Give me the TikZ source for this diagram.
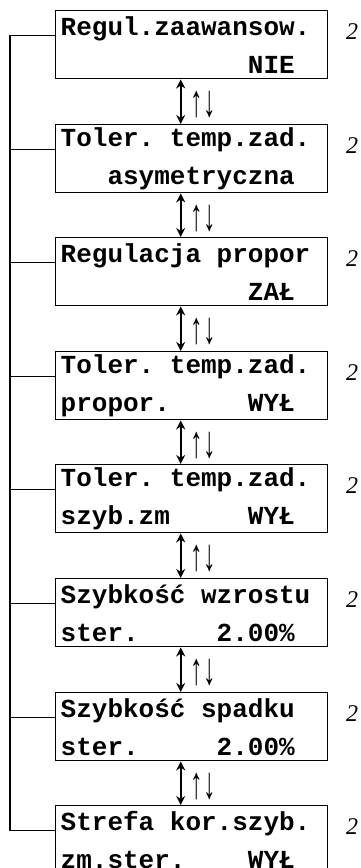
\documentclass[tikz,border=0pt]{standalone}
\usepackage{fontspec}
\setmonofont{Liberation Mono}
\newfontfamily\numfont{Liberation Serif}
\usetikzlibrary{arrows.meta}

% n blank LCD cells
\newcommand\cells[1]{\hspace*{#1\fontcharwd\font`M}}

\tikzset{
  lcd/.style={draw, line width=1.4pt, anchor=north west, minimum width=272pt, minimum height=68pt,
    inner xsep=5pt, inner ysep=0pt, text width=262pt, align=left,
    font=\ttfamily\bfseries\fontsize{26}{38}\selectfont},
  updown/.style={{Stealth[length=9pt,width=9pt]}-{Stealth[length=9pt,width=9pt]}, line width=2.2pt},
  keys/.style={font=\numfont\fontsize{25}{25}\selectfont, inner sep=0pt},
  pagenum/.style={font=\numfont\itshape\fontsize{24}{24}\selectfont, inner sep=0pt}
}

\begin{document}
\begin{tikzpicture}[x=1pt, y=-1pt]
\useasboundingbox (0,0) rectangle (361,868);

\node[lcd] (b1) at (55,10) {Regul.zaawansow.\\\cells{12}NIE};
\node[lcd] (b2) at (55,124) {Toler.\cells{1}temp.zad.\\\cells{3}asymetryczna};
\node[lcd] (b3) at (55,237) {Regulacja\cells{1}propor\\\cells{12}ZAŁ};
\node[lcd] (b4) at (55,351) {Toler.\cells{1}temp.zad.\\propor.\cells{5}WYŁ};
\node[lcd] (b5) at (55,464) {Toler.\cells{1}temp.zad.\\szyb.zm\cells{5}WYŁ};
\node[lcd] (b6) at (55,578) {Szybkość\cells{1}wzrostu\\ster.\cells{5}2.00\%};
\node[lcd] (b7) at (55,692) {Szybkość\cells{1}spadku\\ster.\cells{5}2.00\%};
\node[lcd] (b8) at (55,805) {Strefa\cells{1}kor.szyb.\\zm.ster.\cells{4}WYŁ};

% up/down keys between the screens
\draw[updown] ([xshift=-11pt]b1.south) -- ([xshift=-11pt]b2.north);
\draw[updown] ([xshift=-11pt]b2.south) -- ([xshift=-11pt]b3.north);
\draw[updown] ([xshift=-11pt]b3.south) -- ([xshift=-11pt]b4.north);
\draw[updown] ([xshift=-11pt]b4.south) -- ([xshift=-11pt]b5.north);
\draw[updown] ([xshift=-11pt]b5.south) -- ([xshift=-11pt]b6.north);
\draw[updown] ([xshift=-11pt]b6.south) -- ([xshift=-11pt]b7.north);
\draw[updown] ([xshift=-11pt]b7.south) -- ([xshift=-11pt]b8.north);

\node[keys] (k1) at (203,105) {\scalebox{1}[1.8]{↑↓}};
\node[keys] (k2) at (203,219) {\scalebox{1}[1.8]{↑↓}};
\node[keys] (k3) at (203,332) {\scalebox{1}[1.8]{↑↓}};
\node[keys] (k4) at (203,446) {\scalebox{1}[1.8]{↑↓}};
\node[keys] (k5) at (203,559) {\scalebox{1}[1.8]{↑↓}};
\node[keys] (k6) at (203,673) {\scalebox{1}[1.8]{↑↓}};
\node[keys] (k7) at (203,787) {\scalebox{1}[1.8]{↑↓}};

% rail on the left
\coordinate (rail) at (10,0);
\coordinate (t1) at ([yshift=9pt]b1.west);
\coordinate (t2) at ([yshift=9pt]b2.west);
\coordinate (t3) at ([yshift=9pt]b3.west);
\coordinate (t4) at ([yshift=9pt]b4.west);
\coordinate (t5) at ([yshift=9pt]b5.west);
\coordinate (t6) at ([yshift=9pt]b6.west);
\coordinate (t7) at ([yshift=9pt]b7.west);
\coordinate (t8) at ([yshift=9pt]b8.west);
\draw[line width=1.4pt] (t1) -- (rail |- t1) -- (rail |- t8) -- (t8);
\draw[line width=1.4pt] (t2) -- (rail |- t2);
\draw[line width=1.4pt] (t3) -- (rail |- t3);
\draw[line width=1.4pt] (t4) -- (rail |- t4);
\draw[line width=1.4pt] (t5) -- (rail |- t5);
\draw[line width=1.4pt] (t6) -- (rail |- t6);
\draw[line width=1.4pt] (t7) -- (rail |- t7);

\node[pagenum] (n1) at (352,32) {2};
\node[pagenum] (n2) at (352,146) {2};
\node[pagenum] (n3) at (352,259) {2};
\node[pagenum] (n4) at (352,373) {2};
\node[pagenum] (n5) at (352,486) {2};
\node[pagenum] (n6) at (352,600) {2};
\node[pagenum] (n7) at (352,714) {2};
\node[pagenum] (n8) at (352,827) {2};
\end{tikzpicture}
\end{document}
